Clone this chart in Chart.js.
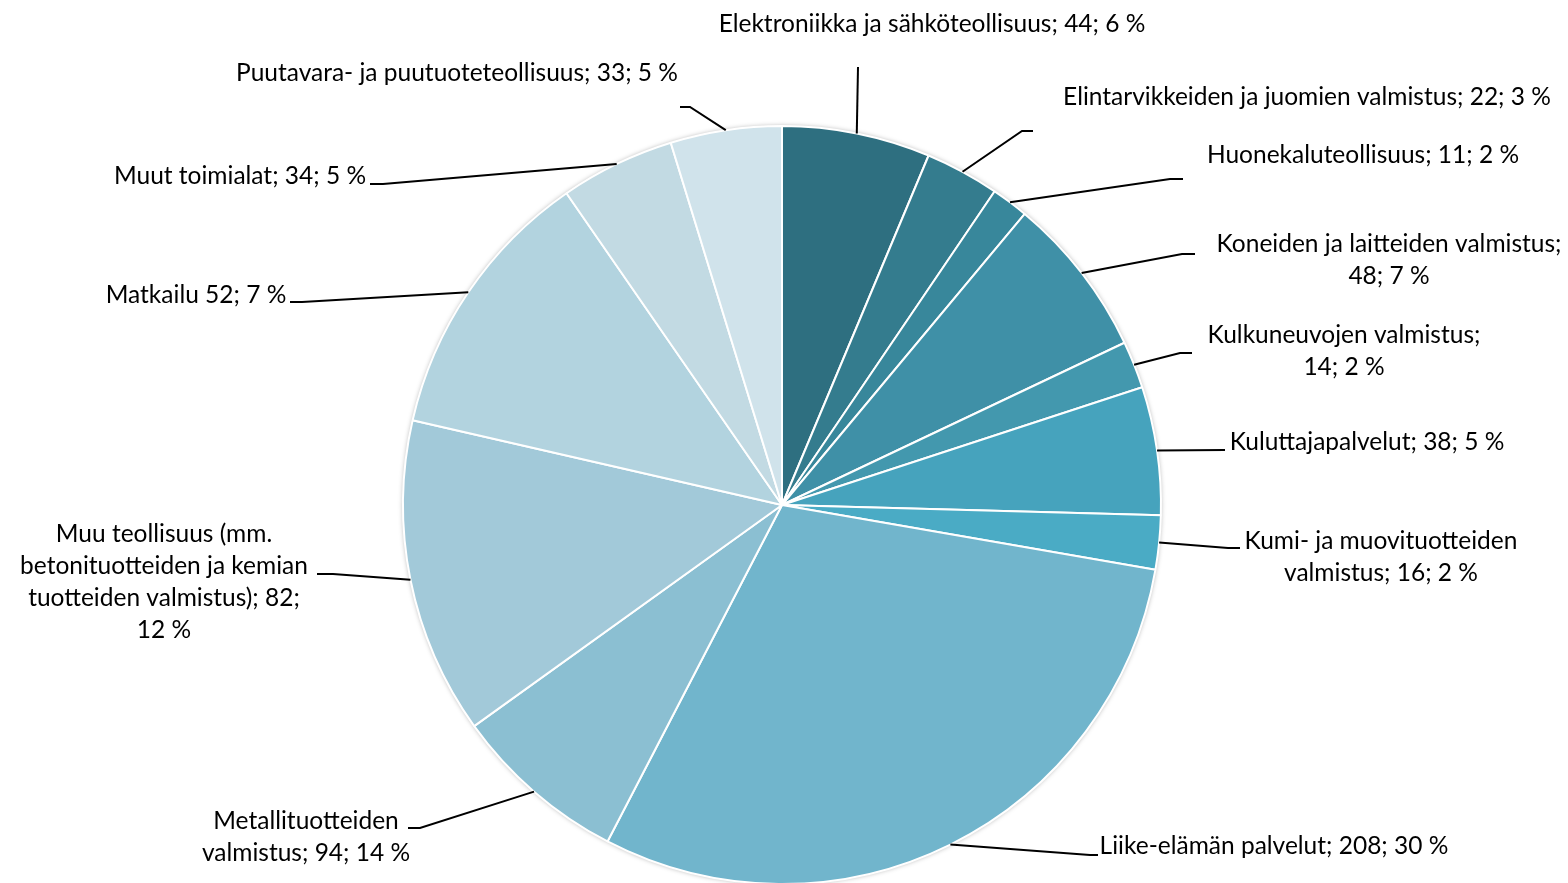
<!DOCTYPE html>
<html>
<head>
<meta charset="utf-8">
<script src="https://cdn.jsdelivr.net/npm/chart.js@4"></script>
<style>
    html, body { margin: 0; padding: 0; background: #fff; overflow: hidden; }
    #wrap { width: 1568px; height: 900px; }
</style>
</head>
<body>
<div id="wrap"><canvas id="pieChart" width="1568" height="900"></canvas></div>
<script>
// Slices in drawing order (clockwise from top)
const categories = [
    'Elektroniikka ja sähköteollisuus',
    'Elintarvikkeiden ja juomien valmistus',
    'Huonekaluteollisuus',
    'Koneiden ja laitteiden valmistus',
    'Kulkuneuvojen valmistus',
    'Kuluttajapalvelut',
    'Kumi- ja muovituotteiden valmistus',
    'Liike-elämän palvelut',
    'Matkailu',
    'Metallituotteiden valmistus',
    'Muu teollisuus (mm. betonituotteiden ja kemian tuotteiden valmistus)',
    'Muut toimialat',
    'Puutavara- ja puutuoteteollisuus'
];
const values = [44, 22, 11, 48, 14, 38, 16, 208, 52, 94, 82, 34, 33];

// Data label texts as they appear on the chart
const labelLines = [
    ['Elektroniikka ja sähköteollisuus; 44; 6 %'],
    ['Elintarvikkeiden ja juomien valmistus; 22; 3 %'],
    ['Huonekaluteollisuus; 11; 2 %'],
    ['Koneiden ja laitteiden valmistus;', '48; 7 %'],
    ['Kulkuneuvojen valmistus;', '14; 2 %'],
    ['Kuluttajapalvelut; 38; 5 %'],
    ['Kumi- ja muovituotteiden', 'valmistus; 16; 2 %'],
    ['Liike-elämän palvelut; 208; 30 %'],
    ['Metallituotteiden', 'valmistus; 94; 14 %'],
    ['Muu teollisuus (mm.', 'betonituotteiden ja kemian', 'tuotteiden valmistus); 82;', '12 %'],
    ['Matkailu 52; 7 %'],
    ['Muut toimialat; 34; 5 %'],
    ['Puutavara- ja puutuoteteollisuus; 33; 5 %']
];

const colors = [
    '#2e6f80', '#347c8e', '#38879b', '#3f90a7', '#4398ae', '#46a3bd', '#4aabc5',
    '#71b5cc', '#8bbfd2', '#a2c9d9', '#b2d3df', '#c2dae3', '#d0e3eb'
];

// Label placement (text centre) and leader line bends, in page pixels
const labelPos = [
    [932, 24], [1307, 97], [1363, 155], [1389, 260], [1344, 351], [1367, 442],
    [1381, 557], [1274, 846], [306, 837], [164, 582], [196, 295], [240, 176], [457, 73]
];
const leaderBends = [
    [[858, 67]],
    [[1022, 131], [1033, 131]],
    [[1170, 179], [1183, 179]],
    [[1182, 254], [1195, 254]],
    [[1180, 353], [1192, 353]],
    [[1225, 450]],
    [[1228, 548], [1240, 548]],
    [[1090, 855], [1098, 855]],
    [[420, 828], [408, 828]],
    [[333, 574], [317, 574]],
    [[302, 302], [290, 302]],
    [[383, 184], [370, 184]],
    [[690, 107], [680, 107]]
];

const FONT = '24.5px Lato, "Open Sans", sans-serif';
const LINE_H = 32;

// soft shadow behind the pie
const pieShadow = {
    id: 'pieShadow',
    beforeDatasetsDraw(chart) {
        const arc = chart.getDatasetMeta(0).data[0];
        if (!arc) return;
        const ctx = chart.ctx;
        ctx.save();
        ctx.shadowColor = 'rgba(0,0,0,0.35)';
        ctx.shadowBlur = 5;
        ctx.fillStyle = '#fff';
        ctx.beginPath();
        ctx.arc(arc.x, arc.y, arc.outerRadius, 0, Math.PI * 2);
        ctx.fill();
        ctx.restore();
    }
};

// leader lines + label texts
const pieLabels = {
    id: 'pieLabels',
    afterDatasetsDraw(chart) {
        const ctx = chart.ctx;
        const meta = chart.getDatasetMeta(0);
        ctx.save();
        ctx.strokeStyle = '#000';
        ctx.lineWidth = 2;
        meta.data.forEach((arc, i) => {
            const mid = (arc.startAngle + arc.endAngle) / 2;
            const sx = arc.x + Math.cos(mid) * arc.outerRadius;
            const sy = arc.y + Math.sin(mid) * arc.outerRadius;
            ctx.beginPath();
            ctx.moveTo(sx, sy);
            leaderBends[i].forEach(p => ctx.lineTo(p[0], p[1]));
            ctx.stroke();
        });
        ctx.fillStyle = '#000';
        ctx.font = FONT;
        ctx.textAlign = 'center';
        ctx.textBaseline = 'middle';
        labelLines.forEach((lines, i) => {
            const [cx, cy] = labelPos[i];
            lines.forEach((txt, k) => {
                ctx.fillText(txt, cx, cy + (k - (lines.length - 1) / 2) * LINE_H);
            });
        });
        ctx.restore();
    }
};

new Chart(document.getElementById('pieChart'), {
    type: 'pie',
    data: {
        labels: categories,
        datasets: [{
            data: values,
            backgroundColor: colors,
            borderColor: '#ffffff',
            borderWidth: 2
        }]
    },
    options: {
        responsive: false,
        animation: false,
        events: [],
        layout: { padding: { left: 402, right: 406, top: 125, bottom: 15 } },
        plugins: {
            legend: { display: false },
            tooltip: { enabled: false }
        }
    },
    plugins: [pieShadow, pieLabels]
});
</script>
</body>
</html>
